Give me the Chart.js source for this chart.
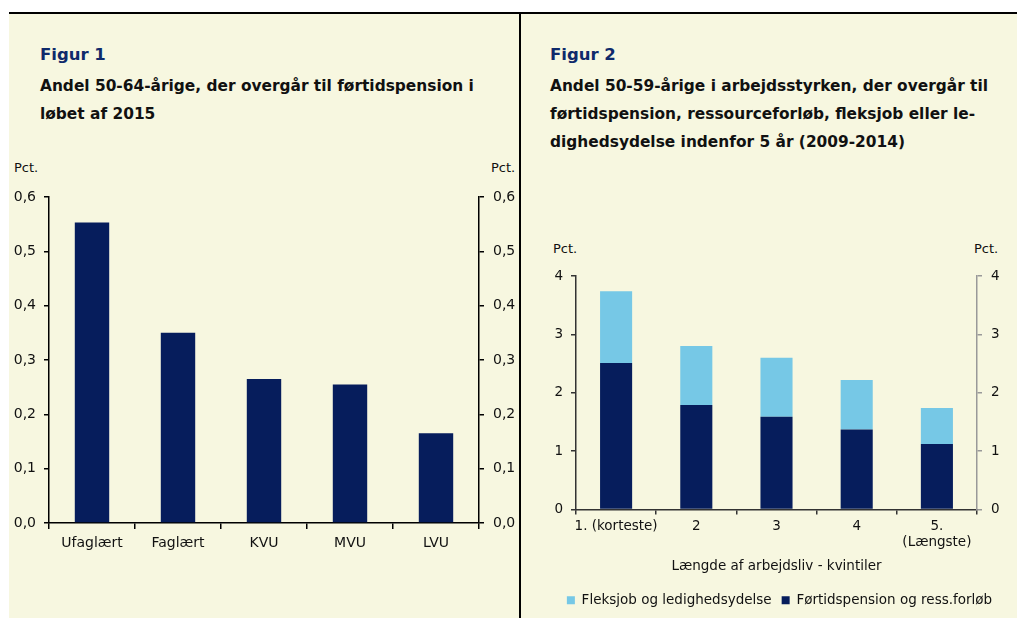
<!DOCTYPE html>
<html>
<head>
<meta charset="utf-8">
<script src="https://cdn.jsdelivr.net/npm/chart.js@4"></script>
<style>
  body { margin: 0; width: 1017px; height: 618px; background: #fff; position: relative; overflow: hidden;
         font-family: "DejaVu Sans", sans-serif; }
  .panel { position: absolute; top: 12px; bottom: 0; background: #f7f7e0; border-top: 2px solid #000; }
  #p1 { left: 9px; width: 510px; }
  #p2 { left: 519px; width: 498px; border-left: 2px solid #000; }
  .fig { position: absolute; font-weight: bold; font-size: 16.5px; color: #0f2a6b; }
  .ttl { position: absolute; font-weight: bold; font-size: 15.4px; line-height: 28px; color: #111; }
  .pct { position: absolute; font-size: 13px; color: #111; }
  canvas { position: absolute; }
</style>
</head>
<body>
<div class="panel" id="p1"></div>
<div class="panel" id="p2"></div>

<div class="fig" style="left:40px; top:45px;">Figur 1</div>
<div class="ttl" style="left:40px; top:72px;">Andel 50-64-årige, der overgår til førtidspension i<br>løbet af 2015</div>
<div class="pct" style="left:14px; top:160px;">Pct.</div>
<div class="pct" style="left:491px; top:160px;">Pct.</div>

<div class="fig" style="left:550px; top:45px;">Figur 2</div>
<div class="ttl" style="left:550px; top:72px;">Andel 50-59-årige i arbejdsstyrken, der overgår til<br>førtidspension, ressourceforløb, fleksjob eller le-<br>dighedsydelse indenfor 5 år (2009-2014)</div>
<div class="pct" style="left:553px; top:241px;">Pct.</div>
<div class="pct" style="left:974px; top:241px;">Pct.</div>

<canvas id="c1" width="510" height="410" style="left:9px; top:150px; width:510px; height:410px;"></canvas>
<canvas id="c2" width="495" height="386" style="left:522px; top:232px; width:495px; height:386px;"></canvas>

<script>
// Figur 1
const educLabels = ['Ufaglært', 'Faglært', 'KVU', 'MVU', 'LVU'];
const educValues = [0.553, 0.350, 0.265, 0.255, 0.165];
const fig1Ticks = [0, 0.1, 0.2, 0.3, 0.4, 0.5, 0.6];

// Figur 2
const quintLabels = [['1. (korteste)'], ['2'], ['3'], ['4'], ['5.', '(Længste)']];
const pensionValues = [2.51, 1.79, 1.59, 1.37, 1.12];
const flexValues = [1.23, 1.01, 1.01, 0.85, 0.62];
const fig2Ticks = [0, 1, 2, 3, 4];

const navy = '#061d5c';
const lightBlue = '#76c8e6';
const family = '"DejaVu Sans", sans-serif';
const font1 = { family: family, size: 14 };
const font2 = { family: family, size: 13.5 };

function fixWidth(w) { return s => { s.width = w; }; }
function fixHeight(h) { return s => { s.height = h; }; }

function yAxis(pos, max, ticks, fmt, color, width, pad, font) {
  return {
    position: pos, min: 0, max: max,
    afterFit: fixWidth(width),
    afterBuildTicks: s => { s.ticks = ticks.map(v => ({ value: v })); },
    border: { display: true, color: color, width: 1.5 },
    grid: { drawOnChartArea: false, drawTicks: true, tickLength: 5, color: color, lineWidth: 1.5 },
    ticks: { color: '#111', font: font, padding: pad, callback: fmt }
  };
}

const comma1 = v => v.toFixed(1).replace('.', ',');

new Chart(document.getElementById('c1'), {
  type: 'bar',
  data: {
    labels: educLabels,
    datasets: [{ data: educValues, backgroundColor: navy, barPercentage: 0.8, categoryPercentage: 0.5 }]
  },
  options: {
    responsive: false, animation: false,
    layout: { padding: { top: 47, bottom: 0, left: 0, right: 0 } },
    plugins: { legend: { display: false }, tooltip: { enabled: false } },
    scales: {
      x: {
        afterFit: fixHeight(37),
        border: { display: true, color: '#000', width: 1.5 },
        grid: { offset: true, drawOnChartArea: false, tickLength: 6, color: '#000', lineWidth: 1.5 },
        ticks: { color: '#111', font: font1, padding: 6, maxRotation: 0, autoSkip: false }
      },
      y: yAxis('left', 0.6, fig1Ticks, comma1, '#000', 40, 8, font1),
      y2: yAxis('right', 0.6, fig1Ticks, comma1, '#000', 40, 9, font1)
    }
  }
});

new Chart(document.getElementById('c2'), {
  type: 'bar',
  data: {
    labels: quintLabels,
    datasets: [
      { label: 'Førtidspension og ress.forløb', data: pensionValues, backgroundColor: navy,
        barPercentage: 0.8, categoryPercentage: 0.5, yAxisID: 'y' },
      { label: 'Fleksjob og ledighedsydelse', data: flexValues, backgroundColor: lightBlue,
        barPercentage: 0.8, categoryPercentage: 0.5, yAxisID: 'y' }
    ]
  },
  options: {
    responsive: false, animation: false,
    layout: { padding: { top: 44, bottom: 1, left: 20, right: 0 } },
    plugins: {
      tooltip: { enabled: false },
      legend: {
        position: 'bottom', reverse: true,
        labels: { boxWidth: 8, boxHeight: 8, padding: 10, color: '#111', font: font2 }
      }
    },
    scales: {
      x: {
        stacked: true,
        afterFit: fixHeight(74),
        border: { display: true, color: '#333', width: 1.5 },
        grid: { offset: true, drawOnChartArea: false, tickLength: 5, color: '#333', lineWidth: 1.5 },
        ticks: { color: '#111', font: font2, padding: 4, maxRotation: 0, autoSkip: false },
        title: { display: true, text: 'Længde af arbejdsliv - kvintiler', color: '#111', font: font2, padding: { top: 0, bottom: 9 } }
      },
      y: Object.assign(yAxis('left', 4, fig2Ticks, v => String(v), '#333', 34, 8, font2), { stacked: true }),
      y2: yAxis('right', 4, fig2Ticks, v => String(v), '#999', 40, 9, font2)
    }
  }
});
</script>
</body>
</html>
